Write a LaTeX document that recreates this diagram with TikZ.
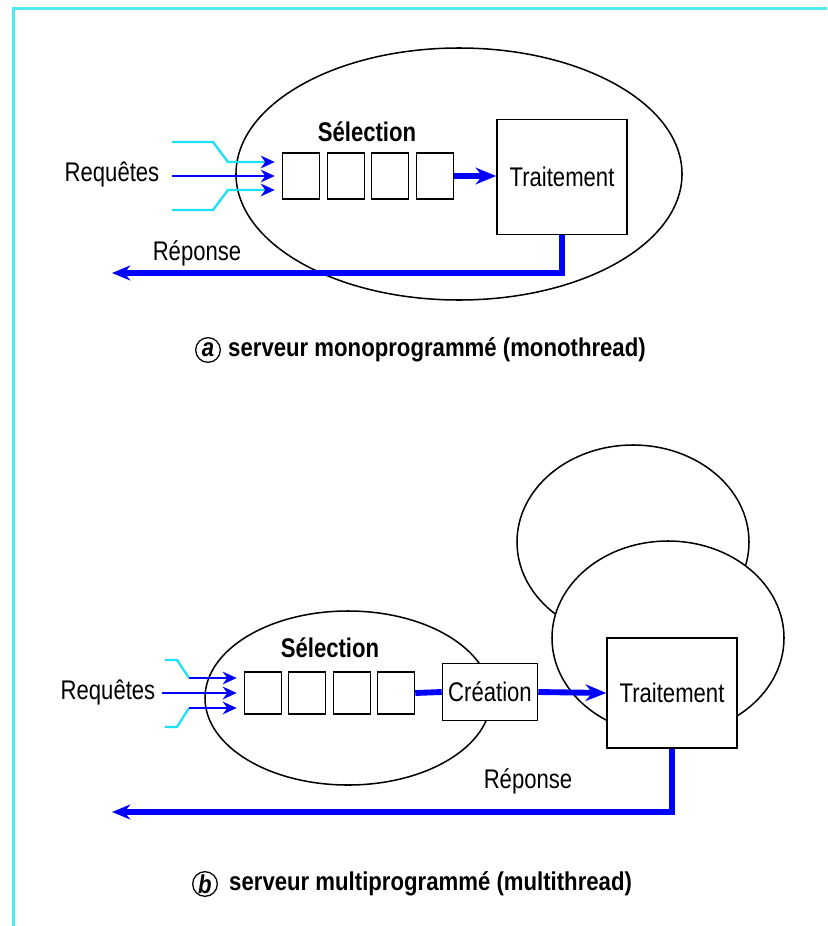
\documentclass[tikz,border=0pt]{standalone}
\usepackage{fontspec}
\setmainfont{Liberation Sans}
\newfontfamily\labfont[FakeStretch=0.82]{Liberation Sans}
\newfontfamily\capfont[FakeStretch=0.86]{Liberation Sans}
\usetikzlibrary{arrows.meta,calc}
\definecolor{bord}{RGB}{80,235,235}
\definecolor{req}{RGB}{30,225,245}
\definecolor{flow}{RGB}{0,0,255}
\tikzset{
  lbl/.style={font=\labfont\fontsize{23}{26}\selectfont, inner sep=0pt},
  blbl/.style={font=\labfont\bfseries\fontsize{23}{26}\selectfont, inner sep=0pt},
  caption/.style={font=\capfont\bfseries\fontsize{22}{26}\selectfont, inner sep=0pt},
  circ/.style={draw, circle, minimum size=0.74cm, inner sep=0pt, line width=1.1pt,
    font=\capfont\bfseries\itshape\fontsize{22}{24}\selectfont},
  qbox/.style={draw, line width=1.3pt, fill=white, minimum width=1.11cm, inner sep=0pt},
  tbox/.style={draw, line width=1.3pt, fill=white, inner sep=0pt,
    font=\labfont\fontsize{23}{26}\selectfont},
  ellline/.style={draw, line width=1.3pt},
  reqline/.style={draw=req, line width=2pt},
  flowthin/.style={draw=flow, line width=2pt},
  flowthick/.style={draw=flow, line width=5pt},
  flowthicker/.style={draw=flow, line width=5.5pt},
  tipthin/.style={-{Stealth[length=0.42cm,width=0.38cm,color=flow]}, shorten >=0.21cm},
  tipthick/.style={-{Stealth[length=0.62cm,width=0.5cm,color=flow]}},
  tipresp/.style={-{Stealth[length=0.55cm,width=0.45cm,color=flow]}}
}
\begin{document}
\begin{tikzpicture}[x=0.03cm,y=-0.03cm]
\useasboundingbox (0,0) rectangle (827,926);
\fill[white] (0,0) rectangle (827,926);
\draw[bord, line width=0.09cm] (13,926) -- (13,9) -- (827,9);

% ---------------- part a ----------------
\draw[ellline] (459,174) ellipse [x radius=6.69cm, y radius=3.78cm];
\node[qbox, minimum height=1.38cm] (qa1) at (301,176) {};
\node[qbox, minimum height=1.38cm] (qa2) at (346,176) {};
\node[qbox, minimum height=1.38cm] (qa3) at (390,176) {};
\node[qbox, minimum height=1.38cm] (qa4) at (435,176) {};
\node[tbox, minimum width=3.9cm, minimum height=3.45cm] (ta) at (562,177) {Traitement};
\node[blbl] (sa) at (367,132) {Sélection};
\node[lbl] (rqa) at (112,174) {Requêtes};
\node[lbl] (rpa) at (197,253) {Réponse};
\coordinate (ia1) at (172,142);
\coordinate (ia2) at (172,176);
\coordinate (ia3) at (172,210);
\coordinate (ea) at (112,273);
\draw[reqline, tipthin] (ia1) -- ++(41,0) -- ++(15,20) -- ($(qa1.west)+(0,-14)$);
\draw[flowthin, tipthin] (ia2) -- (qa1.west);
\draw[reqline, tipthin] (ia3) -- ++(41,0) -- ++(15,-20) -- ($(qa1.west)+(0,14)$);
\draw[flowthick, tipthick] (qa4.east) -- (qa4.east -| ta.west);
\draw[flowthicker, tipresp] (ta.south) |- (ea);
\node[circ] (ca) at (208,350) {a};
\node[caption, anchor=west] (capa) at (228,350) {serveur monoprogrammé (monothread)};

% ---------------- part b ----------------
\draw[ellline] (633,542) ellipse [x radius=3.48cm, y radius=2.91cm];
\draw[ellline, fill=white] (668,638) ellipse [x radius=3.48cm, y radius=2.91cm];
\draw[ellline] (348,698) ellipse [x radius=4.29cm, y radius=2.61cm];
\node[qbox, minimum height=1.26cm] (qb1) at (263,693) {};
\node[qbox, minimum height=1.26cm] (qb2) at (307,693) {};
\node[qbox, minimum height=1.26cm] (qb3) at (352,693) {};
\node[qbox, minimum height=1.26cm] (qb4) at (396,693) {};
\node[tbox, minimum width=2.85cm, minimum height=1.71cm] (cr) at (490,692) {Création};
\node[tbox, minimum width=3.9cm, minimum height=3.3cm] (tb) at (672,693) {Traitement};
\node[blbl] (sb) at (330,648) {Sélection};
\node[lbl] (rqb) at (108,692) {Requêtes};
\node[lbl] (rpb) at (528,781) {Réponse};
\coordinate (ib1) at (165,660);
\coordinate (ib2) at (162,693);
\coordinate (ib3) at (165,727);
\coordinate (jb1) at (189,678);
\coordinate (jb3) at (189,708);
\coordinate (eb) at (112,812);
\draw[reqline] (ib1) -- ++(12,0) -- (jb1);
\draw[reqline] (ib3) -- ++(12,0) -- (jb3);
\draw[flowthin, tipthin] (jb1) -- (jb1 -| qb1.west);
\draw[flowthin, tipthin] (ib2) -- (qb1.west);
\draw[flowthin, tipthin] (jb3) -- (jb3 -| qb1.west);
\draw[flowthick] (qb4.east) -- (cr.west);
\draw[flowthick, tipthick] (cr.east) -- (tb.west);
\draw[flowthicker, tipresp] (tb.south) |- (eb);
\node[circ] (cb) at (205,884) {b};
\node[caption, anchor=west] (capb) at (229,884) {serveur multiprogrammé (multithread)};
\end{tikzpicture}
\end{document}
